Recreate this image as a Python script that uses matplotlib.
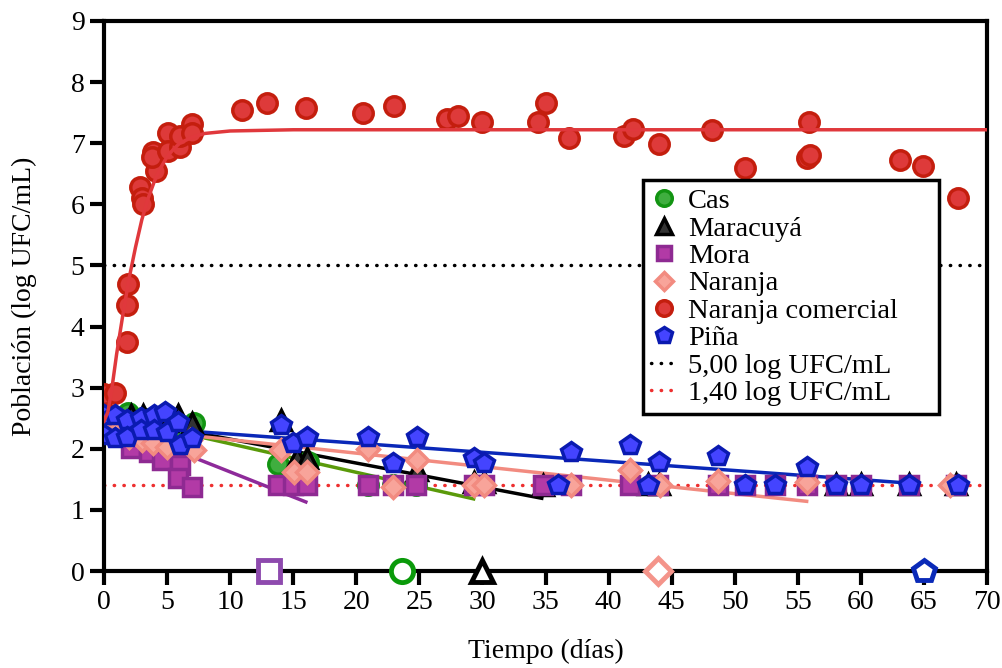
import matplotlib
matplotlib.use("Agg")
import matplotlib.pyplot as plt

plt.rcParams['font.family'] = ['Liberation Serif', 'DejaVu Serif']

# ---- data ----
cas_x = [0, 0.9, 1.9, 3.0, 4.0, 5.0, 6.0, 7.1, 13.8, 16.2, 20.9, 22.9, 24.7]
cas_y = [2.40, 2.45, 2.58, 2.50, 2.45, 2.40, 2.35, 2.42, 1.75, 1.78, 1.40, 1.40, 1.40]

mar_x = [0, 0.9, 2.1, 3.1, 4.0, 5.0, 5.9, 7.0, 14.0, 15.3, 16.1, 24.8, 29.3, 30.1,
         34.8, 43.1, 44.0, 58.0, 60.0, 63.8, 67.5]
mar_y = [2.45, 2.50, 2.55, 2.55, 2.50, 2.45, 2.55, 2.42, 2.47, 1.85, 1.85, 1.65, 1.45, 1.45,
         1.40, 1.42, 1.42, 1.42, 1.42, 1.42, 1.42]

mora_x = [0, 0.9, 2.1, 3.6, 4.6, 6.0, 5.9, 7.0, 13.8, 15.0, 16.1, 20.9, 22.9, 24.7, 29.3,
          30.1, 34.8, 37.0, 41.7, 43.9, 48.7, 50.8, 53.2, 55.7, 58.0, 60.0, 63.8, 67.5]
mora_y = [2.35, 2.30, 2.02, 1.95, 1.82, 1.73, 1.52, 1.38] + [1.40] * 20

nar_x = [0, 0.9, 2.0, 3.0, 3.9, 5.0, 6.8, 7.1, 14.0, 15.1, 16.1, 20.9, 22.9, 24.8, 29.3,
         30.1, 37.0, 41.7, 44.1, 48.7, 55.7, 67.1]
nar_y = [2.30, 2.25, 2.20, 2.14, 2.09, 2.03, 2.14, 1.98, 1.98, 1.62, 1.62, 2.00, 1.38, 1.82, 1.40,
         1.40, 1.40, 1.65, 1.40, 1.48, 1.45, 1.40]

com_x = [0, 0, 0.9, 1.8, 1.8, 1.9, 2.85, 3.0, 3.1, 4.1, 3.9, 3.8, 5.1, 5.1, 6.0, 6.0, 7.0, 7.0,
         10.9, 12.9, 16.0, 20.5, 23.0, 27.2, 28.1, 30.0, 34.4, 35.0, 36.9, 41.2, 41.9, 44.0,
         48.2, 50.8, 55.9, 55.7, 56.0, 63.1, 64.9, 67.7]
com_y = [2.60, 2.90, 2.92, 3.74, 4.35, 4.69, 6.29, 6.11, 6.01, 6.55, 6.86, 6.78, 7.16, 6.88,
         6.93, 7.12, 7.32, 7.16, 7.55, 7.66, 7.58, 7.49, 7.61, 7.40, 7.45, 7.34, 7.34, 7.66,
         7.09, 7.12, 7.24, 6.99, 7.21, 6.60, 7.35, 6.76, 6.81, 6.73, 6.63, 6.11]

pina_x = [0, 0, 0.9, 0.9, 1.8, 1.8, 2.9, 2.9, 4.0, 4.0, 4.8, 5.0, 5.9, 6.0, 7.0, 14.0, 15.0,
          16.1, 20.9, 22.9, 24.8, 29.3, 30.1, 36.0, 37.0, 41.7, 43.1, 44.0, 48.7, 50.8,
          53.2, 55.7, 58.0, 60.0, 63.8, 67.7]
pina_y = [2.55, 2.23, 2.55, 2.18, 2.47, 2.19, 2.50, 2.31, 2.55, 2.31, 2.60, 2.27, 2.44, 2.06,
          2.18, 2.39, 2.09, 2.19, 2.19, 1.77, 2.19, 1.85, 1.77, 1.41, 1.95, 2.06, 1.41, 1.78,
          1.88, 1.41, 1.41, 1.70, 1.41, 1.41, 1.41, 1.41]

# fitted lines (end points)
cas_fit_x, cas_fit_y = [0, 29.3], [2.55, 1.18]
mar_fit_x, mar_fit_y = [0, 34.7], [2.55, 1.19]
mora_fit_x, mora_fit_y = [0, 16.0], [2.44, 1.13]
nar_fit_x, nar_fit_y = [0, 55.7], [2.37, 1.14]
pina_fit_x, pina_fit_y = [0, 63.7], [2.39, 1.44]
com_fit_x = [0, 0.3, 0.6, 1.0, 1.5, 2.0, 2.5, 3.0, 3.5, 4.0, 4.5, 5.0, 5.5, 6.0, 7.0, 8.0,
             10.0, 15.0, 70.0]
com_fit_y = [2.45, 2.6, 2.95, 3.55, 4.2, 4.8, 5.3, 5.75, 6.1, 6.38, 6.6, 6.78, 6.9, 7.0,
             7.1, 7.16, 7.2, 7.22, 7.22]

# hollow markers on the x axis
zero_x = [13.1, 23.6, 30.0, 43.9, 65.0]
zero_marker = ['s', 'o', '^', 'D', 'p']
zero_color = ['#8e4aae', '#0a9a0a', '#000000', '#f4948a', '#0a2ab8']

fig = plt.figure(figsize=(10.03, 6.68), dpi=100)
ax = fig.add_axes([0.1037, 0.1452, 0.8804, 0.8234])

ms = 14
mew = 2.5
ax.plot(cas_fit_x, cas_fit_y, color='#5a9a0a', lw=2.5, zorder=2)
ax.plot(mar_fit_x, mar_fit_y, color='black', lw=2.5, zorder=2)
ax.plot(mora_fit_x, mora_fit_y, color='#8e2a9a', lw=2.5, zorder=2)
ax.plot(nar_fit_x, nar_fit_y, color='#f28b80', lw=2.5, zorder=2)
ax.plot(pina_fit_x, pina_fit_y, color='#0a28b8', lw=2.5, zorder=2)

ax.plot(cas_x, cas_y, 'o', ms=ms, mfc='#3fae3f', mec='#129412', mew=mew, label='Cas', zorder=3)
ax.plot(mar_x, mar_y, '^', ms=ms, mfc='#333333', mec='black', mew=mew, label='Maracuyá', zorder=3)
ax.plot(mora_x, mora_y, 's', ms=ms - 1, mfc='#b23aa6', mec='#8e2a92', mew=mew, label='Mora', zorder=3)
ax.plot(nar_x, nar_y, 'D', ms=ms - 3, mfc='#f8a49a', mec='#f28b80', mew=mew, label='Naranja', zorder=3)
ax.plot(com_x, com_y, 'o', ms=ms, mfc='#de3a3a', mec='#c41e0e', mew=mew, label='Naranja comercial', zorder=3)
ax.plot(pina_x, pina_y, 'p', ms=ms + 1, mfc='#4444ff', mec='#0a1ab0', mew=mew, label='Piña', zorder=4)
ax.plot(com_fit_x, com_fit_y, color='#e0383c', lw=2.5, zorder=5)

ax.axhline(5.0, color='black', lw=2.5, ls=(0, (0.1, 2.7)), dash_capstyle='round',
           label='5,00 log UFC/mL', zorder=1)
ax.axhline(1.4, color='#ee3030', lw=2.5, ls=(0, (0.1, 2.7)), dash_capstyle='round',
           label='1,40 log UFC/mL', zorder=1)

for x0, m, c in zip(zero_x, zero_marker, zero_color):
    ax.plot([x0], [0], m, ms=16 if m != 'D' else 13, mfc='white', mec=c, mew=3.5,
            clip_on=False, zorder=6)

ax.set_xlim(0, 70)
ax.set_ylim(0, 9)
ax.set_xticks(range(0, 71, 5))
ax.set_yticks(range(0, 10))
for s in ax.spines.values():
    s.set_linewidth(3)
ax.tick_params(direction='out', length=10, width=3, labelsize=20, pad=4)
ax.set_xlabel('Tiempo (días)', fontsize=20, labelpad=17)
ax.set_ylabel('Población (log UFC/mL)', fontsize=20, labelpad=24)

leg = ax.legend(loc='upper left', bbox_to_anchor=(0.610, 0.711, 0.336, 0.0),
                mode='expand', borderaxespad=0,
                fontsize=20.5, frameon=True, fancybox=False, edgecolor='black',
                handlelength=0.9, handletextpad=0.4, labelspacing=0.05,
                borderpad=0.3, markerscale=0.8)
leg.get_frame().set_linewidth(2.5)
leg.get_frame().set_alpha(1)

fig.savefig('out.png', dpi=100)
